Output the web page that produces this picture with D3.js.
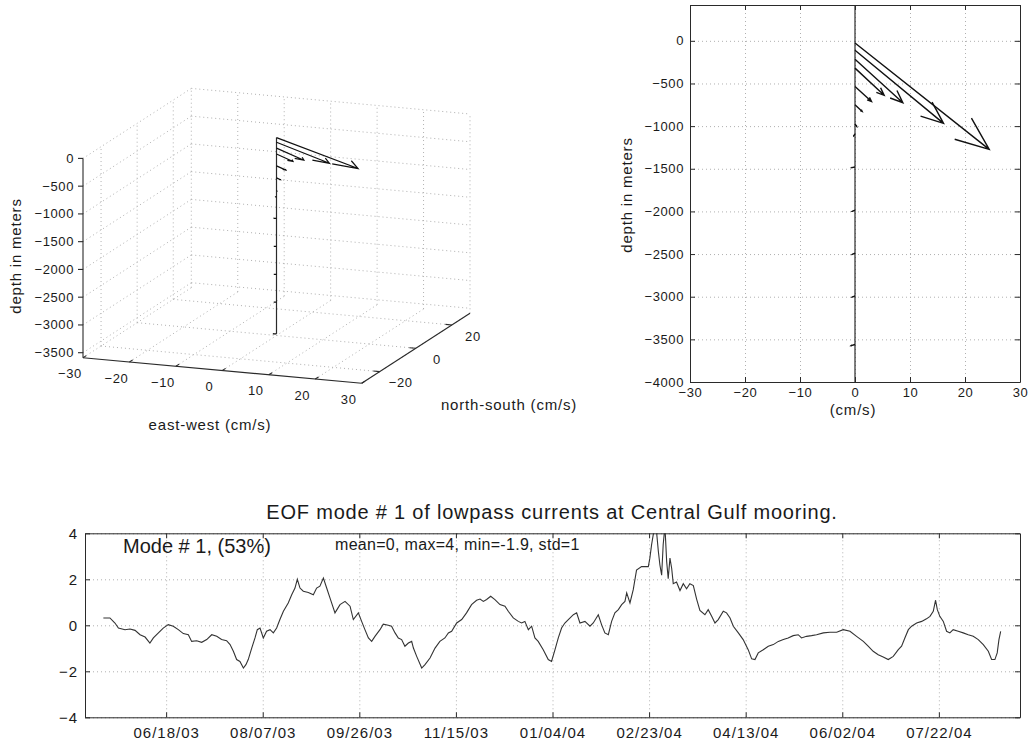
<!DOCTYPE html>
<html>
<head>
<meta charset="utf-8">
<script src="https://cdn.jsdelivr.net/npm/d3@7/dist/d3.min.js"></script>
<style>
  body { margin: 0; background: #fff; }
  text { font-family: "Liberation Sans", Arial, Helvetica, sans-serif; fill: #1a1a1a; }
  .grid line { stroke: #b0b0b0; stroke-dasharray: 1 3; }
  .grid .domain { display: none; }
  .ax path, .ax line { stroke: #2a2a2a; }
  .small text { font-size: 13px; letter-spacing: 0.6px; }
  .big text { font-size: 15px; letter-spacing: 1px; }
  .lbl { font-size: 15px; letter-spacing: 0.8px; }
</style>
</head>
<body>
<svg width="1030" height="747"></svg>
<script>
// ---------- data ----------
// EOF mode 1 velocity profile: depth of each current meter (m), east and north components (cm/s)
const depthM = [-25, -110, -215, -320, -535, -750, -975, -1090, -1480, -1985, -2490, -2990, -3560];
const eastU  = [24.4, 16.1, 8.7, 5.3, 3.0, 1.3, 0.3, -0.2, -0.6, -0.5, -0.5, -0.5, -0.7];
const northV = [-17.6, -12.1, -7.2, -4.5, -2.5, -1.1, -0.4, -0.3, -0.1, -0.2, -0.2, -0.2, -0.2];
const speedTicks = [-30, -20, -10, 0, 10, 20, 30];
const nsTicks = [-20, 0, 20];
const depthTicks3d = [0, -500, -1000, -1500, -2000, -2500, -3000, -3500];
const depthTicks = [0, -500, -1000, -1500, -2000, -2500, -3000, -3500, -4000];

// mode 1 amplitude time series (days after seriesStart)
const seriesStart = new Date(2003, 4, 7);
const obsDay = [9.5,12.9,15.5,17.3,20.7,23.3,25.9,28.5,31.1,33.6,35.4,38.0,40.5,43.1,45.7,48.3,50.9,53.5,55.2,57.8,
  60.4,63.0,65.6,68.2,70.7,73.3,75.1,76.8,78.5,80.2,82.0,83.3,84.5,86.3,88.0,89.2,90.6,92.3,94.0,95.8,
  97.5,99.2,100.9,102.7,105.2,107.0,108.7,109.9,111.3,113.0,115.6,118.2,119.9,121.6,123.4,125.1,126.8,129.4,132.0,134.6,
  137.2,138.9,141.5,143.2,144.9,146.7,148.4,150.1,152.7,154.4,157.0,
  158.7,160.5,162.2,163.9,165.6,167.4,169.1,170.0,171.7,174.3,176.0,178.6,181.2,183.7,186.3,188.1,189.8,192.4,195.0,197.5,
  200.1,202.7,204.5,206.2,207.9,210.0,212.2,214.8,217.4,219.1,221.7,224.3,226.0,227.7,229.5,231.2,232.9,234.6,237.2,239.8,
  241.5,243.3,245.0,246.7,248.4,250.2,252.8,254.5,256.2,258.8,261.4,263.1,265.7,267.4,269.1,270.9,272.6,274.3,276.1,277.8,
  279.5,280.4,282.1,283.8,
  285.5,288.1,291.6,292.4,293.3,294.2,295.6,296.8,297.6,298.5,299.3,300.2,301.1,301.9,302.8,303.7,304.5,306.2,308.0,309.7,
  311.4,313.1,314.9,316.6,
  318.3,320.9,322.6,324.4,326.1,327.8,330.4,332.1,333.9,335.6,338.2,340.7,343.3,345.1,346.8,348.5,351.1,353.7,356.3,358.9,
  361.5,364.0,366.6,369.2,370.9,373.5,376.1,378.7,382.2,385.6,389.1,392.5,396.0,399.4,402.9,405.4,408.0,410.6,413.2,415.8,
  418.4,421.0,422.7,424.4,426.2,427.9,430.5,433.1,435.6,437.4,439.1,440.3,441.2,442.5,444.3,446.0,447.7,449.4,452.0,454.6,
  457.2,459.8,462.4,465.0,467.6,469.3,471.0,472.2,473.1,474.0];
const mode1 = [0.32,0.32,0.10,-0.12,-0.19,-0.16,-0.22,-0.41,-0.51,-0.77,-0.55,-0.33,-0.12,0.03,-0.04,-0.19,-0.36,-0.41,-0.70,-0.67,
  -0.74,-0.62,-0.41,-0.48,-0.62,-0.67,-0.84,-1.13,-1.49,-1.57,-1.86,-1.71,-1.49,-0.99,-0.55,-0.19,-0.12,-0.55,-0.26,-0.19,
  -0.33,-0.12,0.25,0.61,0.97,1.33,1.62,2.00,1.62,1.48,1.43,1.33,1.62,1.70,2.05,1.62,1.19,0.54,0.90,1.04,
  0.83,0.25,0.54,0.17,-0.19,-0.55,-0.70,-0.48,-0.19,0.05,0.00,
  -0.04,-0.33,-0.55,-0.62,-0.91,-0.77,-0.70,-0.99,-1.35,-1.86,-1.71,-1.42,-0.99,-0.70,-0.55,-0.33,-0.26,0.10,0.25,0.54,
  0.90,1.09,1.14,1.04,1.12,1.26,1.12,0.90,0.83,0.61,0.32,0.17,0.10,0.17,-0.19,-0.04,-0.55,-0.70,-1.06,-1.49,
  -1.57,-1.06,-0.55,-0.12,0.10,0.25,0.46,0.54,0.10,0.17,-0.04,0.10,0.46,0.03,-0.33,-0.41,0.17,0.54,0.68,0.90,
  1.04,1.41,0.97,1.55,
  2.40,2.55,2.55,2.92,3.51,3.96,4.30,3.21,2.62,2.18,3.51,4.30,2.77,2.03,2.92,2.47,1.81,1.88,1.51,1.81,
  1.59,1.81,1.73,1.14,
  0.65,0.46,0.68,0.39,0.10,0.25,0.61,0.54,0.32,-0.04,-0.33,-0.62,-1.06,-1.46,-1.49,-1.20,-1.06,-0.91,-0.84,-0.70,
  -0.62,-0.55,-0.45,-0.41,-0.55,-0.48,-0.45,-0.41,-0.33,-0.30,-0.30,-0.19,-0.26,-0.48,-0.70,-0.91,-1.13,-1.28,-1.38,-1.49,
  -1.35,-1.06,-0.91,-0.55,-0.19,-0.04,0.10,0.17,0.28,0.39,0.61,1.09,0.68,0.39,0.17,-0.26,-0.33,-0.19,-0.26,-0.33,
  -0.41,-0.48,-0.62,-0.84,-1.13,-1.49,-1.49,-1.20,-0.62,-0.26];
const dateTicks = ["06/18/03", "08/07/03", "09/26/03", "11/15/03", "01/04/04", "02/23/04", "04/13/04", "06/02/04", "07/22/04"];
const ampTicks = [-4, -2, 0, 2, 4];

const svg = d3.select("svg");
const ink = "#2a2a2a";
const fmt = d3.format("");

// matlab style box: dotted grid, inward ticks on all four sides
function boxAxes(g, x, y, xt, yt, opt) {
  const [x0, x1] = x.range(), [y0, y1] = y.range();
  const w = x1 - x0, h = y0 - y1;
  g.append("g").attr("class", "grid").attr("transform", `translate(0,${y0})`)
    .call(d3.axisBottom(x).tickValues(xt).tickSize(-h).tickFormat(""));
  g.append("g").attr("class", "grid").attr("transform", `translate(${x0},0)`)
    .call(d3.axisLeft(y).tickValues(yt).tickSize(-w).tickFormat(""));
  g.append("g").attr("class", "ax " + opt.cls).attr("transform", `translate(0,${y0})`)
    .call(d3.axisBottom(x).tickValues(xt).tickSize(-5).tickSizeOuter(0).tickPadding(opt.xpad).tickFormat(opt.xf));
  g.append("g").attr("class", "ax").attr("transform", `translate(0,${y1})`)
    .call(d3.axisTop(x).tickValues(xt).tickSize(-5).tickSizeOuter(0).tickFormat(""));
  g.append("g").attr("class", "ax " + opt.cls).attr("transform", `translate(${x0},0)`)
    .call(d3.axisLeft(y).tickValues(yt).tickSize(-5).tickSizeOuter(0).tickPadding(opt.ypad).tickFormat(fmt));
  g.append("g").attr("class", "ax").attr("transform", `translate(${x1},0)`)
    .call(d3.axisRight(y).tickValues(yt).tickSize(-5).tickSizeOuter(0).tickFormat(""));
}

// ---------- upper right: profile in the east / depth plane ----------
const rx = d3.scaleLinear().domain([-30, 30]).range([690, 1020]);
const ry = d3.scaleLinear().domain([-4000, 420]).range([382, 5]);
const vScale = 70.9; // metres of depth drawn per cm/s of north component
const gr = svg.append("g");
boxAxes(gr, rx, ry, speedTicks, depthTicks, {cls: "small", xpad: 6, ypad: 6, xf: fmt});

gr.append("line")
  .attr("x1", rx(0)).attr("x2", rx(0)).attr("y1", ry(420)).attr("y2", ry(-4000))
  .attr("stroke", ink).attr("stroke-width", 1.2);

const arrowsR = depthM.map((d, i) => {
  const x1 = rx(0), y1 = ry(d), x2 = rx(eastU[i]), y2 = ry(d + northV[i] * vScale);
  const L = Math.hypot(x2 - x1, y2 - y1), a = Math.atan2(y1 - y2, x1 - x2), hl = 0.21 * L, t = 22 * Math.PI / 180;
  return [[x1, y1], [x2, y2],
    [x2 + hl * Math.cos(a + t), y2 + hl * Math.sin(a + t)],
    [x2 + hl * Math.cos(a - t), y2 + hl * Math.sin(a - t)]];
});
gr.selectAll("path.arr").data(arrowsR).join("path").attr("class", "arr")
  .attr("d", p => `M${p[0]}L${p[1]}M${p[2]}L${p[1]}L${p[3]}`)
  .attr("fill", "none").attr("stroke", "#111").attr("stroke-width", 1.4);

gr.append("text").attr("class", "lbl")
  .attr("transform", `translate(632,195) rotate(-90)`).attr("text-anchor", "middle")
  .text("depth in meters");
gr.append("text").attr("class", "lbl").attr("x", 853).attr("y", 415).attr("text-anchor", "middle")
  .text("(cm/s)");

// ---------- upper left: 3-D view ----------
const sx3 = d3.scaleLinear().domain([-30, 30]).range([0, 1]);
const sy3 = d3.scaleLinear().domain([-30, 30]).range([0, 1]);
const sz3 = d3.scaleLinear().domain([-3590, 0]).range([0, 1]);
const P = {ax: 83, ay: 357.7, exX: 278.7, exY: 25.6, eyX: 108.3, eyY: -70, h: 199.3};
function proj(x, y, z) {
  const a = sx3(x), b = sy3(y), c = sz3(z);
  return [P.ax + a * P.exX + b * P.eyX, P.ay + a * P.exY + b * P.eyY - c * P.h];
}
const zMin = sz3.domain()[0], zMax = sz3.domain()[1];
const g3 = svg.append("g");
const seg = (a, b) => `M${a}L${b}`;
const gridSegs = [];
depthTicks3d.forEach(z => {
  gridSegs.push(seg(proj(-30, -30, z), proj(-30, 30, z)));
  gridSegs.push(seg(proj(-30, 30, z), proj(30, 30, z)));
});
nsTicks.forEach(y => {
  gridSegs.push(seg(proj(-30, y, zMin), proj(-30, y, zMax)));
  gridSegs.push(seg(proj(-30, y, zMin), proj(30, y, zMin)));
});
speedTicks.forEach(x => {
  gridSegs.push(seg(proj(x, 30, zMin), proj(x, 30, zMax)));
  gridSegs.push(seg(proj(x, -30, zMin), proj(x, 30, zMin)));
});
g3.append("g").selectAll("path").data(gridSegs).join("path")
  .attr("d", d => d).attr("stroke", "#b0b0b0").attr("stroke-dasharray", "1 3").attr("fill", "none");

// axis lines and ticks
const axSegs = [
  seg(proj(-30, -30, zMin), proj(-30, -30, zMax)),
  seg(proj(-30, -30, zMin), proj(30, -30, zMin)),
  seg(proj(30, -30, zMin), proj(30, 30, zMin))
];
depthTicks3d.forEach(z => { const p = proj(-30, -30, z); axSegs.push(seg(p, [p[0] - 5, p[1]])); });
speedTicks.forEach(x => axSegs.push(seg(proj(x, -30, zMin), proj(x, -28.2, zMin))));
nsTicks.forEach(y => axSegs.push(seg(proj(30, y, zMin), proj(28.6, y, zMin))));
g3.append("g").selectAll("path").data(axSegs).join("path")
  .attr("d", d => d).attr("stroke", ink).attr("fill", "none").attr("stroke-width", 1.1);

const t3 = g3.append("g").attr("class", "small");
t3.selectAll("text.z").data(depthTicks3d).join("text").attr("class", "z")
  .attr("x", d => proj(-30, -30, d)[0] - 9).attr("y", d => proj(-30, -30, d)[1])
  .attr("dy", "0.35em").attr("text-anchor", "end").text(fmt);
t3.selectAll("text.x").data(speedTicks).join("text").attr("class", "x")
  .attr("x", d => proj(d, -30, zMin)[0] - 13).attr("y", d => proj(d, -30, zMin)[1] + 16)
  .attr("dy", "0.35em").attr("text-anchor", "middle").text(fmt);
t3.selectAll("text.y").data(nsTicks).join("text").attr("class", "y")
  .attr("x", d => proj(30, d, zMin)[0] + 21).attr("y", d => proj(30, d, zMin)[1] + 11)
  .attr("dy", "0.35em").attr("text-anchor", "middle").text(fmt);

g3.append("text").attr("class", "lbl")
  .attr("transform", `translate(21,256) rotate(-90)`).attr("text-anchor", "middle")
  .text("depth in meters");
g3.append("text").attr("class", "lbl").attr("x", 210).attr("y", 430).attr("text-anchor", "middle")
  .text("east-west (cm/s)");
g3.append("text").attr("class", "lbl").attr("x", 509).attr("y", 410).attr("text-anchor", "middle")
  .text("north-south (cm/s)");

// mooring line and quiver3 arrows
const dExt = d3.extent(depthM);
g3.append("path").attr("d", seg(proj(0, 0, dExt[0]), proj(0, 0, dExt[1])))
  .attr("stroke", ink).attr("stroke-width", 1.2);
const alpha = 0.2, beta = 0.38;
const arrows3 = depthM.map((d, i) => {
  const u = eastU[i], v = northV[i];
  const tip = proj(u, v, d);
  const b1 = proj(u - alpha * (u + beta * v), v - alpha * (v - beta * u), d);
  const b2 = proj(u - alpha * (u - beta * v), v - alpha * (v + beta * u), d);
  return `M${proj(0, 0, d)}L${tip}M${b1}L${tip}L${b2}`;
});
g3.append("g").selectAll("path").data(arrows3).join("path")
  .attr("d", d => d).attr("fill", "none").attr("stroke", "#111").attr("stroke-width", 1.2);

// ---------- bottom: time series ----------
const parseTick = d3.timeParse("%m/%d/%y");
const tx = d3.scaleTime().domain([seriesStart, new Date(2004, 8, 2)]).range([85, 1020]);
const ty = d3.scaleLinear().domain([-4, 4]).range([717.3, 533.3]);
const gb = svg.append("g");
boxAxes(gb, tx, ty, dateTicks.map(parseTick), ampTicks,
  {cls: "big", xpad: 10, ypad: 7, xf: d3.timeFormat("%m/%d/%y")});

gb.append("clipPath").attr("id", "clipb").append("rect")
  .attr("x", 85).attr("y", 533.3).attr("width", 935).attr("height", 184);
const series = obsDay.map((d, i) => ({t: new Date(+seriesStart + d * 864e5), v: mode1[i]}));
gb.append("path").datum(series).attr("clip-path", "url(#clipb)")
  .attr("d", d3.line().x(d => tx(d.t)).y(d => ty(d.v)))
  .attr("fill", "none").attr("stroke", "#333").attr("stroke-width", 1.1);

gb.append("text").attr("x", 552).attr("y", 519).attr("text-anchor", "middle")
  .style("font-size", "20px").style("letter-spacing", "0.8px")
  .text("EOF mode # 1 of lowpass currents at Central Gulf mooring.");
gb.append("text").attr("x", 123).attr("y", 553)
  .style("font-size", "20px")
  .text("Mode # 1, (53%)");
gb.append("text").attr("x", 335).attr("y", 550)
  .style("font-size", "16px").style("letter-spacing", "0.3px")
  .text("mean=0, max=4, min=-1.9, std=1");
</script>
</body>
</html>
